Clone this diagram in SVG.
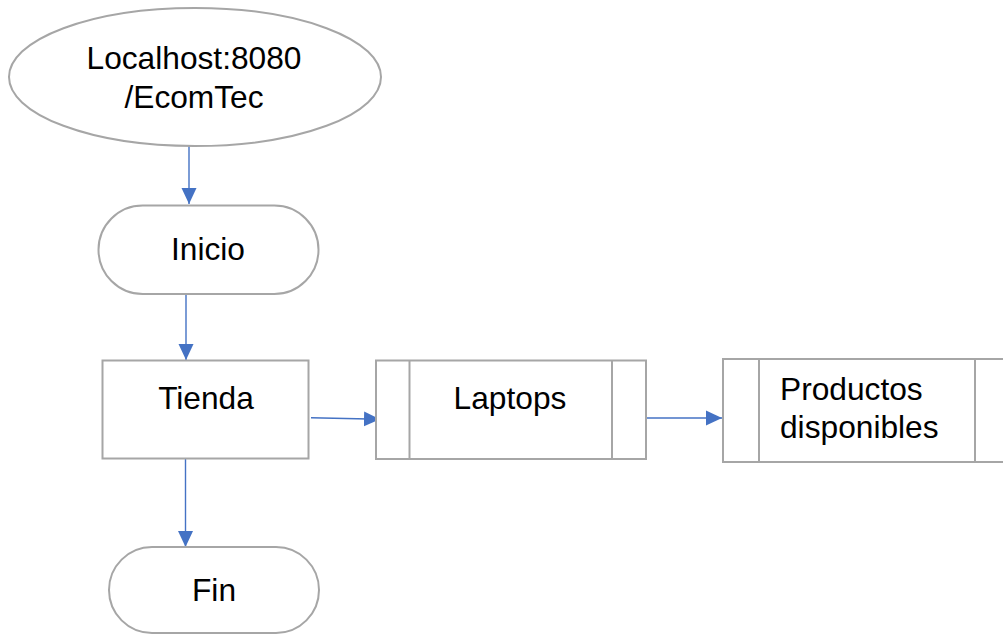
<svg xmlns="http://www.w3.org/2000/svg" width="1003" height="634" viewBox="0 0 1003 634">
<style>
.shape{fill:#fff;stroke:#A6A6A6;stroke-width:2}
.lbl{font-family:"Liberation Sans",Arial,sans-serif;font-size:31.7px;fill:#000}
.c{text-anchor:middle}
.conn{stroke:#4472C4;stroke-width:1.4;fill:none;marker-end:url(#ah)}
</style>
<defs>
<marker id="ah" markerUnits="userSpaceOnUse" markerWidth="16" markerHeight="16" viewBox="0 0 16 16" refX="16" refY="8" orient="auto">
<path d="M0,0.5 L16,8 L0,15.5 Z" fill="#4472C4"/>
</marker>
</defs>
<rect width="1003" height="634" fill="#fff"/>
<g id="connectors">
<line class="conn" x1="189" y1="146" x2="189" y2="204"/>
<line class="conn" x1="186" y1="294" x2="186" y2="360"/>
<line class="conn" x1="311" y1="417.7" x2="380" y2="419.3"/>
<line class="conn" x1="646" y1="418" x2="722" y2="418"/>
<line class="conn" x1="185.5" y1="456" x2="185.5" y2="547"/>
</g>
<g id="node-localhost">
<ellipse class="shape" cx="195" cy="77" rx="186" ry="69"/>
<text class="lbl c" x="194" y="69">Localhost:8080</text>
<text class="lbl c" x="194" y="108">/EcomTec</text>
</g>
<g id="node-inicio">
<rect class="shape" x="98.5" y="205.5" width="220" height="88.5" rx="44.25"/>
<text class="lbl c" x="208" y="260">Inicio</text>
</g>
<g id="node-tienda">
<rect class="shape" x="102.5" y="360.5" width="206" height="98"/>
<text class="lbl c" x="206" y="409">Tienda</text>
</g>
<g id="node-laptops">
<rect class="shape" x="376" y="360.5" width="270" height="98.5"/>
<line class="shape" x1="409.5" y1="360.5" x2="409.5" y2="459"/>
<line class="shape" x1="612" y1="360.5" x2="612" y2="459"/>
<text class="lbl c" x="510" y="409">Laptops</text>
</g>
<g id="node-productos">
<rect class="shape" x="723" y="359" width="288" height="103"/>
<line class="shape" x1="759" y1="359" x2="759" y2="462"/>
<line class="shape" x1="975" y1="359" x2="975" y2="462"/>
<text class="lbl" x="780" y="400">Productos</text>
<text class="lbl" x="780" y="438">disponibles</text>
</g>
<g id="node-fin">
<rect class="shape" x="109" y="547" width="210" height="86" rx="43"/>
<text class="lbl c" x="214" y="601">Fin</text>
</g>
</svg>
